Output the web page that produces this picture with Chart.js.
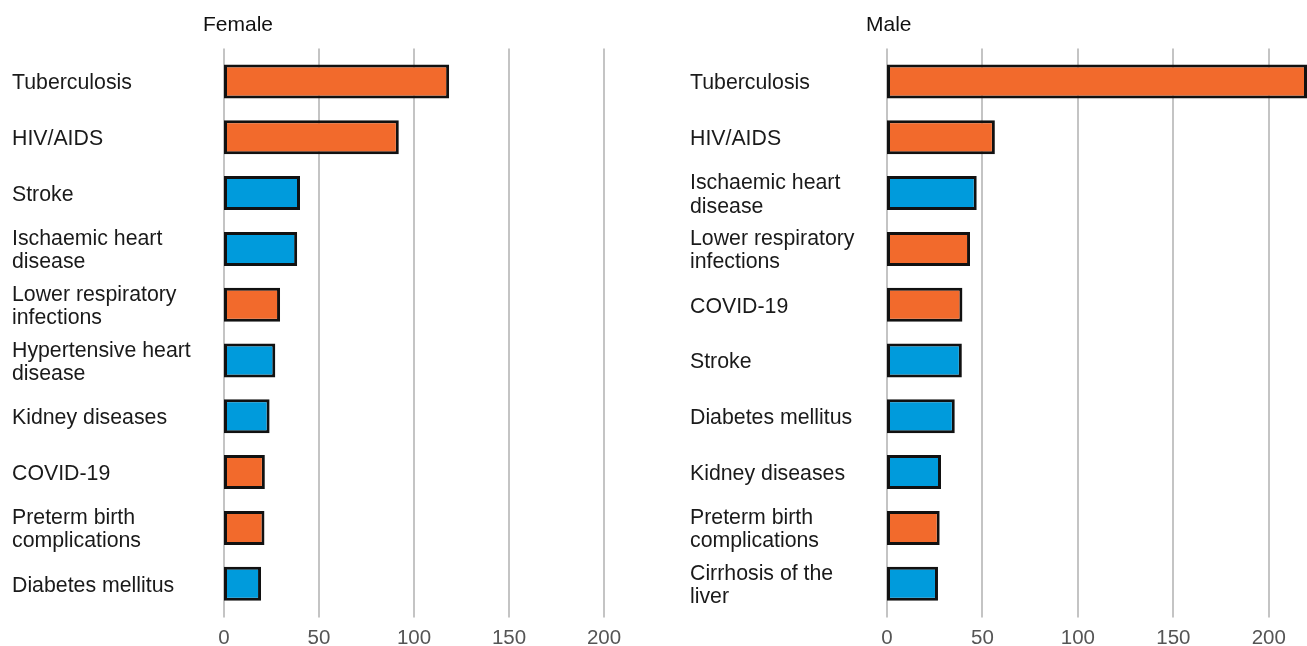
<!DOCTYPE html>
<html>
<head>
<meta charset="utf-8">
<script src="https://cdn.jsdelivr.net/npm/chart.js@4"></script>
<style>
  html, body { margin: 0; padding: 0; background: #fff; }
  #wrap { position: relative; width: 1307px; height: 646px; overflow: hidden; }
  canvas { position: absolute; top: 0; }
</style>
</head>
<body>
<div id="wrap">
  <canvas id="female" width="650" height="646" style="left:0"></canvas>
  <canvas id="male" width="629" height="646" style="left:678px"></canvas>
</div>
<script>
// deaths per 100k
const femaleLabels = [
  'Tuberculosis', 'HIV/AIDS', 'Stroke', ['Ischaemic heart', 'disease'],
  ['Lower respiratory', 'infections'], ['Hypertensive heart', 'disease'],
  'Kidney diseases', 'COVID-19', ['Preterm birth', 'complications'], 'Diabetes mellitus'
]
const femaleValues = [118.5, 92, 40, 38.5, 29.5, 27, 24, 21.5, 21.3, 19.5]
const femaleInfectious = [true, true, false, false, true, false, false, true, true, false]

const maleLabels = [
  'Tuberculosis', 'HIV/AIDS', ['Ischaemic heart', 'disease'],
  ['Lower respiratory', 'infections'], 'COVID-19', 'Stroke',
  'Diabetes mellitus', 'Kidney diseases', ['Preterm birth', 'complications'],
  ['Cirrhosis of the', 'liver']
]
const maleValues = [220, 56.5, 47, 43.5, 39.5, 39.2, 35.5, 28.3, 27.6, 26.7]
const maleInfectious = [true, true, false, true, true, false, false, false, true, false]

const xTicks = [0, 50, 100, 150, 200]

const ORANGE = '#f26a2c'
const BLUE = '#009bdc'
const FONT = '"Liberation Sans", Arial, sans-serif'

// vertical gridlines a bit past the plot box, plus the panel title
const panelDecor = {
  id: 'panelDecor',
  beforeDatasetsDraw (chart, args, opts) {
    const { ctx, chartArea, scales: { x } } = chart
    ctx.save()
    ctx.strokeStyle = '#c4c4c4'
    ctx.lineWidth = 2
    x.ticks.forEach(t => {
      const px = Math.round(x.getPixelForValue(t.value))
      ctx.beginPath()
      ctx.moveTo(px, chartArea.top - 5)
      ctx.lineTo(px, chartArea.bottom + 6)
      ctx.stroke()
    })
    ctx.fillStyle = '#111'
    ctx.font = '21px ' + FONT
    ctx.textBaseline = 'middle'
    ctx.textAlign = 'left'
    ctx.fillText(opts.title, chartArea.left - 21, 25)
    ctx.restore()
  }
}

function makePanel (id, title, labels, values, infectious, yWidth, padRight) {
  return new Chart(document.getElementById(id), {
    type: 'bar',
    plugins: [panelDecor],
    data: {
      labels: labels,
      datasets: [{
        data: values,
        backgroundColor: infectious.map(f => f ? ORANGE : BLUE),
        borderColor: '#111',
        borderWidth: 3,
        borderSkipped: false,
        categoryPercentage: 1,
        barPercentage: 0.61
      }]
    },
    options: {
      indexAxis: 'y',
      responsive: false,
      animation: false,
      devicePixelRatio: 1,
      layout: { padding: { left: 12, right: padRight, top: 53.6, bottom: 0 } },
      scales: {
        x: {
          min: 0,
          max: 220,
          afterBuildTicks: s => { s.ticks = xTicks.map(v => ({ value: v })) },
          afterFit: s => { s.height = 34.4 },
          grid: { display: false },
          border: { display: false },
          ticks: {
            padding: 6,
            color: '#555',
            font: { family: FONT, size: 20.5 }
          }
        },
        y: {
          afterFit: s => { s.width = yWidth },
          grid: { display: false },
          border: { display: false },
          ticks: {
            crossAlign: 'far',
            padding: 0,
            labelOffset: 2,
            color: '#1a1a1a',
            font: { family: FONT, size: 21.3, lineHeight: 1.1 }
          }
        }
      },
      plugins: {
        legend: { display: false },
        tooltip: { enabled: false },
        panelDecor: { title: title }
      }
    }
  })
}

makePanel('female', 'Female', femaleLabels, femaleValues, femaleInfectious, 212, 8)
makePanel('male', 'Male', maleLabels, maleValues, maleInfectious, 197, 0)
</script>
</body>
</html>
